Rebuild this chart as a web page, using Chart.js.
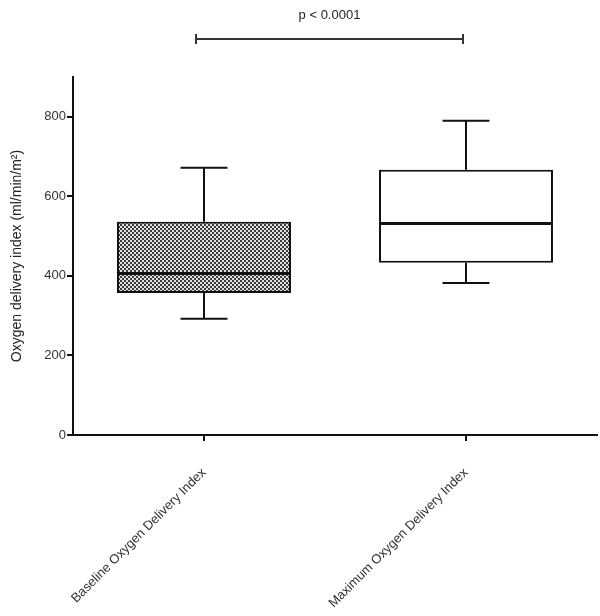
<!DOCTYPE html>
<html>
<head>
<meta charset="utf-8">
<script src="https://cdn.jsdelivr.net/npm/chart.js@4"></script>
<style>
  html, body { margin: 0; padding: 0; background: #fff; }
  #wrap { width: 600px; height: 616px; }
</style>
</head>
<body>
<div id="wrap"><canvas id="chart"></canvas></div>
<script>
const categories = ['Baseline Oxygen Delivery Index', 'Maximum Oxygen Delivery Index'];
const whiskerMin = [292, 382];
const quartile1 = [357, 433];
const medians = [408, 533];
const quartile3 = [536, 667];
const whiskerMax = [672, 790];
const yTicks = [0, 200, 400, 600, 800];
const pLabel = 'p < 0.0001';

const FONT = "'Liberation Sans', Arial, sans-serif";

// dotted grey fill like the original
function makePattern() {
    const c = document.createElement('canvas');
    c.width = 4; c.height = 4;
    const g = c.getContext('2d');
    g.fillStyle = '#e2e2e2';
    g.fillRect(0, 0, 4, 4);
    g.fillStyle = '#3c3c3c';
    g.fillRect(0, 0, 2, 2);
    g.fillRect(2, 2, 2, 2);
    return g.createPattern(c, 'repeat');
}

const boxExtras = {
    id: 'boxExtras',
    afterDatasetsDraw(chart) {
        const ctx = chart.ctx;
        const xs = chart.scales.x, ys = chart.scales.y;
        const meta = chart.getDatasetMeta(0);
        ctx.save();
        ctx.strokeStyle = '#111';
        categories.forEach((c, i) => {
            const x = xs.getPixelForValue(i);
            const w = meta.data[i].width;
            const cap = w * 0.135;
            ctx.lineWidth = 2;
            ctx.beginPath();
            ctx.moveTo(x, ys.getPixelForValue(quartile3[i]));
            ctx.lineTo(x, ys.getPixelForValue(whiskerMax[i]));
            ctx.moveTo(x - cap, ys.getPixelForValue(whiskerMax[i]));
            ctx.lineTo(x + cap, ys.getPixelForValue(whiskerMax[i]));
            ctx.moveTo(x, ys.getPixelForValue(quartile1[i]));
            ctx.lineTo(x, ys.getPixelForValue(whiskerMin[i]));
            ctx.moveTo(x - cap, ys.getPixelForValue(whiskerMin[i]));
            ctx.lineTo(x + cap, ys.getPixelForValue(whiskerMin[i]));
            ctx.stroke();
            // median line
            const ym = Math.round(ys.getPixelForValue(medians[i])) + 0.5;
            ctx.lineWidth = 3;
            ctx.beginPath();
            ctx.moveTo(x - w / 2, ym);
            ctx.lineTo(x + w / 2, ym);
            ctx.stroke();
        });

        // significance bracket
        const x0 = xs.getPixelForValue(0) - 8, x1 = xs.getPixelForValue(1) - 3;
        const yb = chart.chartArea.top - 38;
        ctx.strokeStyle = '#333';
        ctx.lineWidth = 2;
        ctx.beginPath();
        ctx.moveTo(x0, yb); ctx.lineTo(x1, yb);
        ctx.moveTo(x0, yb - 5); ctx.lineTo(x0, yb + 5);
        ctx.moveTo(x1, yb - 5); ctx.lineTo(x1, yb + 5);
        ctx.stroke();
        ctx.fillStyle = '#222';
        ctx.font = '13px ' + FONT;
        ctx.textAlign = 'center';
        ctx.textBaseline = 'middle';
        ctx.fillText(pLabel, (x0 + x1) / 2, yb - 24);
        ctx.restore();
    }
};

const ctx = document.getElementById('chart').getContext('2d');
new Chart(ctx, {
    type: 'bar',
    data: {
        labels: categories,
        datasets: [{
            data: categories.map((c, i) => [quartile1[i], quartile3[i]]),
            backgroundColor: [makePattern(), '#ffffff'],
            borderColor: '#111',
            borderWidth: 2,
            borderSkipped: false,
            barPercentage: 0.664,
            categoryPercentage: 1
        }]
    },
    options: {
        responsive: true,
        maintainAspectRatio: false,
        animation: false,
        layout: { padding: { top: 77, right: 3, left: 0, bottom: 0 } },
        plugins: { legend: { display: false }, tooltip: { enabled: false } },
        scales: {
            x: {
                offset: true,
                grid: { offset: false, drawOnChartArea: false, drawTicks: true, tickLength: 6, color: '#111', lineWidth: 2 },
                border: { display: true, color: '#111', width: 2 },
                ticks: {
                    color: '#333', font: { family: FONT, size: 13 },
                    minRotation: 45, maxRotation: 45, padding: 24
                },
                afterFit(scale) { scale.height = 181; }
            },
            y: {
                min: 0, max: 900,
                grid: { drawOnChartArea: false, drawTicks: true, tickLength: 6, color: '#111', lineWidth: 2 },
                border: { display: true, color: '#111', width: 2 },
                ticks: { color: '#333', font: { family: FONT, size: 13 }, padding: 1, stepSize: 200 },
                afterBuildTicks(scale) { scale.ticks = yTicks.map(v => ({ value: v })); },
                title: {
                    display: true, text: 'Oxygen delivery index (ml/min/m²)',
                    color: '#222', font: { family: FONT, size: 14 }, padding: { top: 9, bottom: 0 }
                },
                afterFit(scale) { scale.width = 73; }
            }
        }
    },
    plugins: [boxExtras]
});
</script>
</body>
</html>
